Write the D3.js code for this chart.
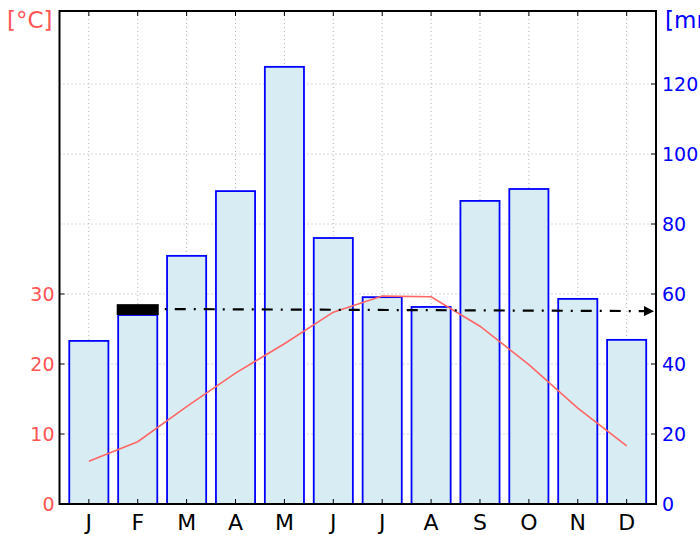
<!DOCTYPE html>
<html>
<head>
<meta charset="utf-8">
<script src="https://cdn.jsdelivr.net/npm/d3@7"></script>
<style>
  body { margin: 0; background: #fff; }
  svg { font-family: "DejaVu Sans", sans-serif; }
</style>
</head>
<body>
<svg id="chart" width="700" height="535"></svg>
<script>
"use strict";

// Data
const months = ["J", "F", "M", "A", "M", "J", "J", "A", "S", "O", "N", "D"];
const precip = [46.6, 54, 70.9, 89.4, 124.9, 76, 59.1, 56.3, 86.6, 90, 58.6, 46.9]; // mm
const temp = [6.1, 8.9, 13.9, 18.7, 22.9, 27.4, 29.7, 29.6, 25.4, 19.9, 13.7, 8.3]; // °C
const tempTicks = [0, 10, 20, 30];
const precipTicks = [0, 20, 40, 60, 80, 100, 120];
// black block over February and dash-dot arrow (mm values)
const block = { from: 0.57, to: 1.43, low: 54, high: 57.1 };
const arrow = { from: 1.43, to: 11.6, start: 55.7, end: 55.1 };

const svg = d3.select("#chart");
const margins = { top: 11, right: 44, bottom: 31, left: 59.5 };
const width = +svg.attr("width"),
  height = +svg.attr("height");

const x = d3.scaleLinear()
  .domain([-0.6, 11.6])
  .range([margins.left, width - margins.right]);

const yT = d3.scaleLinear()
  .domain([0, (height - margins.bottom - margins.top) / 7])
  .range([height - margins.bottom, margins.top]);

const yP = d3.scaleLinear()
  .domain([0, 2 * yT.domain()[1]])
  .range([height - margins.bottom, margins.top]);

const step = x(1) - x(0);
const barW = 0.8 * step;

// grid
const grid = svg.append("g").attr("stroke", "#b0b0b0").attr("stroke-width", 1)
  .attr("stroke-dasharray", "1,3");
grid.selectAll(".gx").data(months).enter().append("line")
  .attr("x1", (d, i) => x(i)).attr("x2", (d, i) => x(i))
  .attr("y1", margins.top).attr("y2", height - margins.bottom);
grid.selectAll(".gy").data(precipTicks.slice(1)).enter().append("line")
  .attr("x1", margins.left).attr("x2", width - margins.right)
  .attr("y1", d => yP(d)).attr("y2", d => yP(d));

// bars
svg.append("g").selectAll("rect").data(precip).enter().append("rect")
  .attr("x", (d, i) => x(i) - barW / 2)
  .attr("y", d => yP(d))
  .attr("width", barW)
  .attr("height", d => yP(0) - yP(d))
  .attr("fill", "#d8edf3")
  .attr("stroke", "#0000ff")
  .attr("stroke-width", 1.8);

// temperature line
svg.append("path")
  .datum(temp)
  .attr("d", d3.line().x((d, i) => x(i)).y(d => yT(d)))
  .attr("fill", "none")
  .attr("stroke", "#ff6666")
  .attr("stroke-width", 1.6);

// block and arrow
svg.append("rect")
  .attr("x", x(block.from))
  .attr("y", yP(block.high))
  .attr("width", x(block.to) - x(block.from))
  .attr("height", yP(block.low) - yP(block.high))
  .attr("fill", "#000");

svg.append("defs").append("marker")
  .attr("id", "head")
  .attr("viewBox", "0 0 10 10")
  .attr("refX", 10).attr("refY", 5)
  .attr("markerWidth", 10).attr("markerHeight", 10)
  .attr("markerUnits", "userSpaceOnUse")
  .attr("orient", "auto")
  .append("path").attr("d", "M0,0L10,5L0,10z").attr("fill", "#000");

svg.append("line")
  .attr("x1", x(arrow.from) + 6).attr("y1", yP(arrow.start))
  .attr("x2", x(arrow.to) - 2).attr("y2", yP(arrow.end))
  .attr("stroke", "#000")
  .attr("stroke-width", 2.2)
  .attr("stroke-dasharray", "2,8,11,8")
  .attr("marker-end", "url(#head)");

// ticks (inward)
const tk = svg.append("g").attr("stroke", "#000").attr("stroke-width", 1);
months.forEach((m, i) => {
  tk.append("line").attr("x1", x(i)).attr("x2", x(i))
    .attr("y1", yP(0)).attr("y2", yP(0) - 5);
  tk.append("line").attr("x1", x(i)).attr("x2", x(i))
    .attr("y1", margins.top).attr("y2", margins.top + 5);
});
tempTicks.forEach(t => {
  tk.append("line").attr("x1", margins.left).attr("x2", margins.left + 5)
    .attr("y1", yT(t)).attr("y2", yT(t));
});
precipTicks.forEach(t => {
  tk.append("line").attr("x1", width - margins.right).attr("x2", width - margins.right - 5)
    .attr("y1", yP(t)).attr("y2", yP(t));
});

// frame
svg.append("rect")
  .attr("x", margins.left).attr("y", margins.top)
  .attr("width", width - margins.left - margins.right)
  .attr("height", height - margins.top - margins.bottom)
  .attr("fill", "none").attr("stroke", "#000").attr("stroke-width", 2);

// labels
svg.append("g").selectAll("text").data(months).enter().append("text")
  .attr("x", (d, i) => x(i))
  .attr("y", height - 5)
  .attr("text-anchor", "middle")
  .attr("font-size", 22)
  .attr("fill", "#000")
  .text(d => d);

svg.append("g").selectAll("text").data(tempTicks).enter().append("text")
  .attr("x", margins.left - 5)
  .attr("y", d => yT(d) + 7)
  .attr("text-anchor", "end")
  .attr("font-size", 19)
  .attr("fill", "#ff5555")
  .text(d => d);

svg.append("g").selectAll("text").data(precipTicks).enter().append("text")
  .attr("x", width - margins.right + 6)
  .attr("y", d => yP(d) + 7)
  .attr("font-size", 19)
  .attr("fill", "#0000ff")
  .text(d => d);

svg.append("text")
  .attr("x", 7).attr("y", 28)
  .attr("font-size", 23)
  .attr("fill", "#ff5555")
  .text("[°C]");

svg.append("text")
  .attr("x", 665).attr("y", 28)
  .attr("font-size", 23)
  .attr("fill", "#0000ff")
  .text("[mm]");
</script>
</body>
</html>
